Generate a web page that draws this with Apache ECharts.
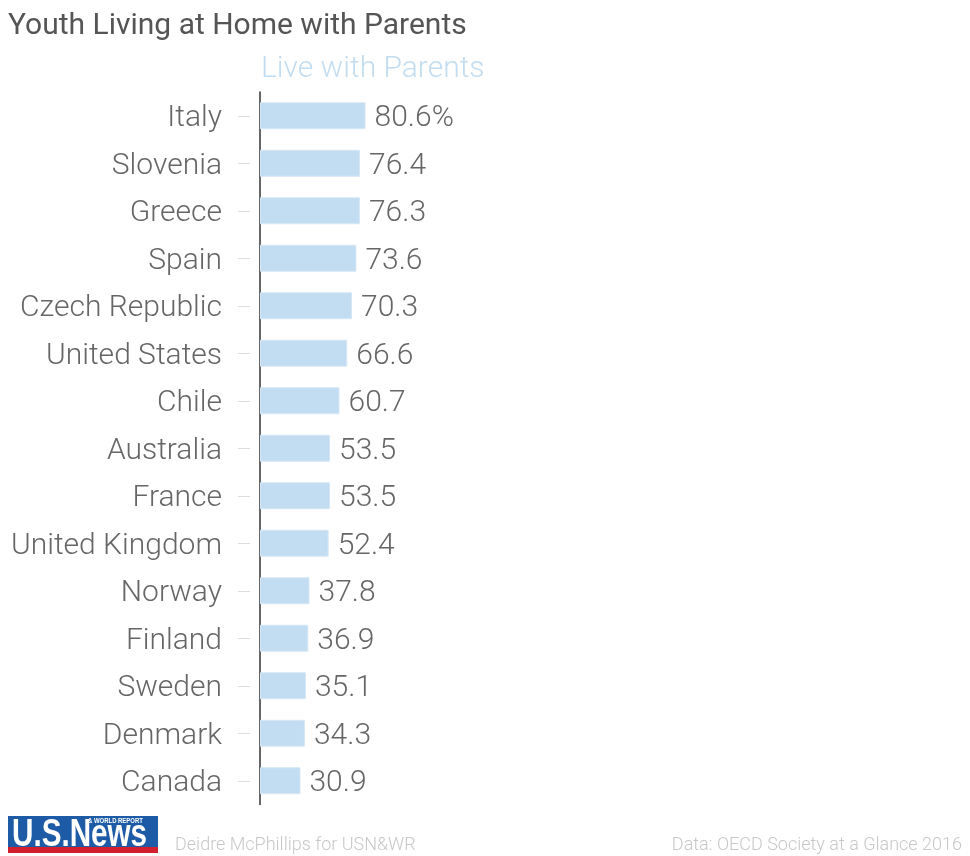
<!DOCTYPE html>
<html>
<head>
<meta charset="utf-8">
<script src="https://cdn.jsdelivr.net/npm/echarts@6/dist/echarts.min.js"></script>
<style>
html,body{margin:0;padding:0;background:#fff;}
#chart{width:970px;height:856px;}
</style>
</head>
<body>
<div id="chart"></div>
<script>
const countries = ['Italy','Slovenia','Greece','Spain','Czech Republic','United States','Chile','Australia','France','United Kingdom','Norway','Finland','Sweden','Denmark','Canada'];
const liveWithParents = [80.6,76.4,76.3,73.6,70.3,66.6,60.7,53.5,53.5,52.4,37.8,36.9,35.1,34.3,30.9];
const seriesName = 'Live with Parents';
const titleText = 'Youth Living at Home with Parents';
const creditText = 'Deidre McPhillips for USN&WR';
const sourceText = 'Data: OECD Society at a Glance 2016';

const chart = echarts.init(document.getElementById('chart'), null, {renderer:'canvas'});
const FONT = 'Roboto';
chart.setOption({
  animation:false,
  backgroundColor:'#fff',
  title:{
    text:titleText, left:8, top:11, padding:0,
    textStyle:{fontFamily:FONT, fontSize:30, fontWeight:400, color:'#555'}
  },
  legend:{show:false},
  grid:{left:260, top:92, width:131, height:712.5, containLabel:false},
  xAxis:{type:'value', min:0, max:100, show:false},
  yAxis:[{
    type:'category', data:countries, inverse:true,
    axisLine:{show:true, lineStyle:{color:'#333', width:1.5}},
    axisTick:{show:false},
    axisLabel:{margin:38, formatter:v => '{a|' + v + '}',
      rich:{a:{padding:[6,0,0,0], fontFamily:FONT, fontWeight:300, fontSize:30, color:'#666'}}},
    splitLine:{show:false}
  },{
    type:'category', data:countries, inverse:true, position:'left', offset:10,
    axisLine:{show:false},
    axisTick:{show:true, alignWithLabel:true, length:12, lineStyle:{color:'#ddd', width:1}},
    axisLabel:{show:false}
  }],
  series:[{
    name:seriesName, type:'bar', data:liveWithParents, barWidth:27,
    itemStyle:{color:'#c2ddf1', borderColor:'#d6e8f6', borderWidth:1},
    label:{show:true, position:'right', distance:9, offset:[0,3], fontFamily:FONT, fontWeight:300, fontSize:30, color:'#666',
      formatter:p => p.dataIndex === 0 ? p.value + '%' : String(p.value)}
  }],
  graphic:[
    {type:'text', left:261, top:54, style:{text:seriesName, font:'300 30px Roboto', fill:'#c2ddf1'}},
    {type:'rect', left:8, top:816, shape:{width:150, height:32}, style:{fill:'#1d5ba6'}},
    {type:'rect', left:8, top:847, shape:{width:150, height:6}, style:{fill:'#d3202e'}},
    {type:'text', x:12, y:836, scaleX:0.78, style:{text:'U.S.News', font:'bold 38px "Liberation Sans", sans-serif', fill:'#fff', textVerticalAlign:'middle'}},
    {type:'text', x:88, y:821, scaleX:0.85, style:{text:'& WORLD REPORT', font:'bold 7px "Liberation Sans", sans-serif', fill:'#fff', textVerticalAlign:'middle'}},
    {type:'text', left:175, top:836, style:{text:creditText, font:'300 18px Roboto', fill:'#c8c8c8'}},
    {type:'text', right:8, top:836, style:{text:sourceText, font:'300 18px Roboto', fill:'#c8c8c8'}}
  ]
});
</script>
</body>
</html>
